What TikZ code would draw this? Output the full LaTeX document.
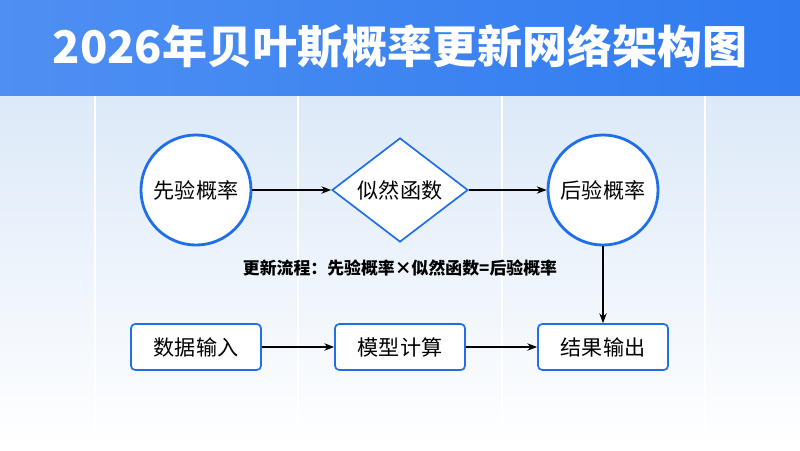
\documentclass[tikz,border=0pt]{standalone}
\usepackage{fontspec}
\setmainfont{Noto Sans CJK SC}
\usetikzlibrary{positioning,shapes.geometric,arrows.meta}
\definecolor{titleblue}{HTML}{2F7BF0}
\definecolor{edgeblue}{HTML}{1E6FE8}
\definecolor{bgblue}{HTML}{DCE9F8}

\begin{document}
\begin{tikzpicture}[x=0.025cm,y=0.025cm,
	stage/.style={circle, draw=edgeblue, line width=2pt, fill=white, minimum size=2.75cm, font=\fontsize{15}{17}\selectfont},
	check/.style={diamond, draw=edgeblue, line width=1.2pt, fill=white, minimum width=3.4cm, minimum height=2.5cm, inner sep=0pt, font=\fontsize{15}{17}\selectfont},
	block/.style={rectangle, rounded corners=3pt, draw=edgeblue, line width=1.2pt, fill=white, minimum width=3.25cm, minimum height=1.15cm, font=\fontsize{15}{17}\selectfont},
	flow/.style={-{Stealth[length=7pt]}, thick, black}]
		\useasboundingbox (0,0) rectangle (800,450);
		% Background
		\shade[top color=bgblue, bottom color=white] (0,0) rectangle (800,355);
		\foreach \x in {95,298,502,705} {
			\draw[white, line width=1.5pt] (\x,0) -- (\x,355);
		}
		% Title band
		\shade[left color=titleblue!85, right color=titleblue] (0,355) rectangle (800,450);
		\node[text=white, font=\bfseries\fontsize{32}{36}\selectfont] (title) at (400,403) {2026年贝叶斯概率更新网络架构图};

		% Upper row
		\node[stage] (prior) at (196,260) {先验概率};
		\node[check] (like) at (400,260) {似然函数};
		\node[stage] (post) at (603,260) {后验概率};
		\node[font=\bfseries\fontsize{12}{14}\selectfont] (rule) at (400,182) {更新流程：先验概率×似然函数=后验概率};

		% Lower row
		\node[block] (input) at (196,103) {数据输入};
		\node[block] (model) at (400,103) {模型计算};
		\node[block] (output) at (603,103) {结果输出};

		% Connectors
		\draw[flow] (prior) -- (like);
		\draw[flow] (like) -- (post);
		\draw[flow] (post) -- (output);
		\draw[flow] (input) -- (model);
		\draw[flow] (model) -- (output);
	\end{tikzpicture}
\end{document}
